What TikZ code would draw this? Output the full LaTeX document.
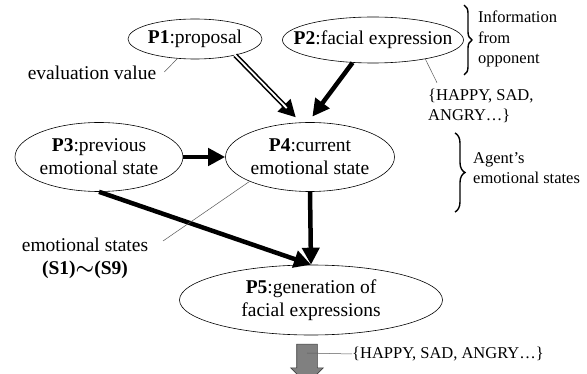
\documentclass[tikz,border=0pt]{standalone}
\usepackage{fontspec}
\setmainfont{Liberation Serif}
\usetikzlibrary{arrows.meta, shapes.geometric, shapes.arrows, decorations.pathreplacing}

\newcommand{\grande}{\fontsize{19.5}{23}\selectfont}
\newcommand{\pequeno}{\fontsize{16.5}{20.5}\selectfont}
\definecolor{cinza}{RGB}{128, 128, 128}

\begin{document}
\begin{tikzpicture}[
    x=1pt, y=-1pt,
    processo/.style={
        draw,
        ellipse,
        line width=0.6pt,
        inner xsep=-20pt,
        inner ysep=0pt,
        align=center,
        font=\grande
    },
    seta/.style={
        -{Triangle[length=17pt,width=17pt]},
        line width=4.5pt
    },
    miolo/.style={
        white,
        line width=1.8pt,
        shorten <=-1pt,
        shorten >=20pt
    },
    guia/.style={
        gray!70!black,
        line width=0.5pt
    },
    nota/.style={
        inner sep=0pt,
        align=left,
        font=\pequeno
    },
    chave/.style={
        decorate,
        decoration={brace, amplitude=#1},
        line width=1.4pt
    }
]

\useasboundingbox[fill=white] (0,0) rectangle (587,374);

\node[processo, minimum width=134pt, minimum height=40pt] (p1) at (195,39)
{\textbf{P1}:proposal};

\node[processo, minimum width=181pt, minimum height=46pt] (p2) at (373,40)
{\textbf{P2}:facial expression};

\node[processo, minimum width=168pt, minimum height=69pt] (p3) at (99,157)
{\textbf{P3}:previous\\
emotional state};

\node[processo, minimum width=169pt, minimum height=69pt] (p4) at (310,157)
{\textbf{P4}:current\\
emotional state};

\node[processo, minimum width=263pt, minimum height=70pt] (p5) at (311,300)
{\textbf{P5}:generation of\\
facial expressions};

\node[nota, font=\grande] (avaliacao) at (92,73) {evaluation value};
\node[nota, anchor=west] (opcoes) at (428,106) {\{HAPPY, SAD,\\ANGRY…\}};
\node[nota, anchor=west] (info) at (478,39) {Information\\from\\opponent};
\node[nota, anchor=west] (agente) at (473,168) {Agent’s\\emotional states};
\node[nota, font=\grande, align=center] (estados) at (85,258)
{emotional states\\
\textbf{(S1)}{\boldmath$\sim$}\textbf{(S9)}};

\node[single arrow, shape border rotate=270, fill=cinza, draw=gray!50!black,
      line width=0.6pt, inner sep=10pt, minimum height=40pt,
      single arrow head extend=6pt, single arrow head indent=0pt] (saida) at (307,359) {};
\node[nota, anchor=west] (expressoes) at (352,354) {\{HAPPY, SAD, ANGRY…\}};

\coordinate (fimEstados) at (163,241);
\coordinate (chave1a) at (464,5);
\coordinate (chave1b) at (464,75);
\coordinate (chave2a) at (455,133);
\coordinate (chave2b) at (455,212);

\draw[seta, line width=5pt, shorten >=7pt] (p1.338) -- (p4.105);
\draw[miolo] (p1.338) -- (p4.105);
\draw[seta, shorten >=7pt] (p2.228) -- (p4.93);
\draw[seta] (p3.east) -- (p4.west);
\draw[seta] (p4.south) -- (p5.north);
\draw[seta] (p3.south) -- (p5.north);

\draw[guia] ([xshift=8pt,yshift=1pt]avaliacao.east) -- (p1.228);
\draw[guia] (p2.340) -- ([xshift=9pt,yshift=6pt]opcoes.north west);
\draw[guia] (p4.202) -- (fimEstados);
\draw[guia] ([yshift=6pt]saida.center) -- (expressoes.west);

\draw[chave=8pt] (chave1a) -- (chave1b);
\draw[chave=10pt] (chave2a) -- (chave2b);

\end{tikzpicture}
\end{document}
